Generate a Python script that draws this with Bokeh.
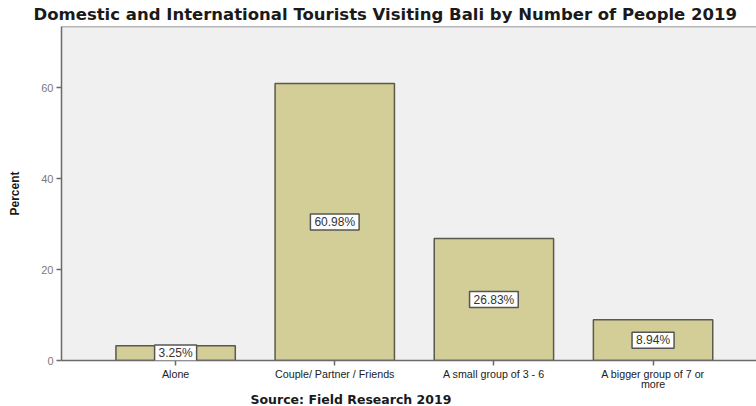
from bokeh.plotting import figure
from bokeh.models import Label, Span, FixedTicker, Range1d, ColumnDataSource, Title
from bokeh.embed import file_html
from bokeh.resources import INLINE

categories = ["Alone", "Couple/ Partner / Friends", "A small group of 3 - 6", "A bigger group of 7 or\nmore"]
percents = [3.25, 60.98, 26.83, 8.94]
value_labels = ["3.25%", "60.98%", "26.83%", "8.94%"]
y_ticks = [0, 20, 40, 60]

title_text = "Domestic and International Tourists Visiting Bali by Number of People 2019"
source_text = "Source: Field Research 2019"
y_label = "Percent"

FONT = "Liberation Sans"
BOLD_FONT = "DejaVu Sans"
xs = list(range(1, len(categories) + 1))

p = figure(width=756, height=406, output_backend="svg", toolbar_location=None,
           x_range=Range1d(0.283, 4.65), y_range=Range1d(0, 73.5),
           min_border_left=61, min_border_right=0, min_border_top=26, min_border_bottom=46)
p.background_fill_color = "#f0f0f0"
p.border_fill_color = "white"
p.outline_line_color = None
p.grid.visible = False

p.title = Title(text=title_text, align="left", offset=-28, standoff=5,
                text_font=BOLD_FONT, text_font_style="bold", text_font_size="16.5px",
                text_color="#1a1a1a")

src = ColumnDataSource(dict(x=xs, top=percents))
p.vbar(x="x", top="top", width=0.75, bottom=0, source=src,
       fill_color="#d3ce97", line_color="#5a5a4a", line_width=1.5)

for x, v, t in zip(xs, percents, value_labels):
    p.add_layout(Label(x=x, y=v / 2, text=t, text_align="center", text_baseline="middle",
                       text_font=FONT, text_font_size="12px", text_color="#333333",
                       background_fill_color="white", border_line_color="#555555",
                       border_line_width=1.5, padding=(4, 1)))

p.add_layout(Span(location=73.5, dimension="width", line_color="#777777", line_width=1.5))

ax = p.xaxis[0]
ax.ticker = FixedTicker(ticks=xs)
ax.major_label_overrides = {i: c for i, c in zip(xs, categories)}
ax.major_tick_out = 5
ax.major_tick_in = 0
ax.minor_tick_line_color = None
ax.axis_line_color = "#6a6a6a"
ax.axis_line_width = 1.5
ax.major_tick_line_color = "#6a6a6a"
ax.major_tick_line_width = 1.5
ax.major_label_text_font = FONT
ax.major_label_text_font_size = "10.7px"
ax.major_label_text_color = "#222222"
ax.major_label_standoff = 2
ax.major_label_text_line_height = 0.85

ay = p.yaxis[0]
ay.ticker = FixedTicker(ticks=y_ticks)
ay.major_tick_out = 5
ay.major_tick_in = 0
ay.minor_tick_line_color = None
ay.axis_line_color = "#6a6a6a"
ay.axis_line_width = 1.5
ay.major_tick_line_color = "#6a6a6a"
ay.major_tick_line_width = 1.5
ay.major_label_text_font = FONT
ay.major_label_text_font_size = "11px"
ay.major_label_text_color = "#7a7a7a"
ay.major_label_standoff = 3
ay.axis_label = y_label
ay.axis_label_text_font = FONT
ay.axis_label_text_font_style = "bold"
ay.axis_label_text_font_size = "12px"
ay.axis_label_text_color = "#1a1a1a"
ay.axis_label_standoff = 16

p.add_layout(Title(text=source_text, align="left", offset=189, standoff=-6,
                   text_font=BOLD_FONT, text_font_style="bold", text_font_size="12.5px",
                   text_color="#1a1a1a"), "below")

open("out.html", "w").write(file_html(p, INLINE))
